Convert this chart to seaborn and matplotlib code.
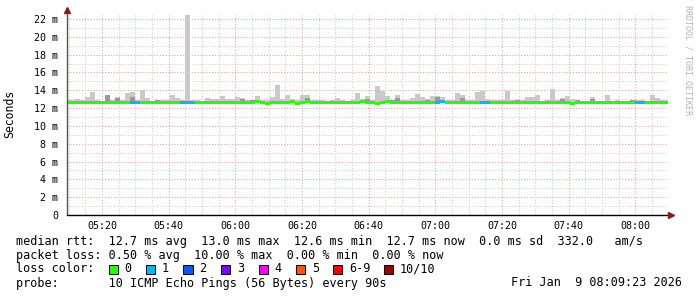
import numpy as np
import matplotlib
matplotlib.use("Agg")
import matplotlib.pyplot as plt
import seaborn as sns
from matplotlib.patches import Rectangle
from matplotlib.lines import Line2D

# ---------------- data (ms), one slot per 90 s probe ----------------
smoke_max = [12.9, 12.9, 13.0, 12.9, 13.2, 13.8, 12.9, 12.8, 13.5, 12.9,
             13.2, 12.9, 13.7, 13.8, 12.9, 14.0, 13.1, 12.8, 12.9, 12.9,
             12.9, 13.5, 13.1, 12.9, 22.45, 12.9, 12.9, 12.8, 13.1, 13.0,
             13.0, 13.4, 13.0, 13.0, 13.2, 13.1, 12.9, 12.9, 13.4, 12.9,
             12.9, 13.2, 14.6, 13.0, 13.5, 13.0, 12.9, 13.5, 13.5, 12.9,
             12.9, 12.9, 12.8, 12.9, 13.1, 12.9, 12.8, 12.9, 13.7, 13.0,
             13.4, 12.9, 14.5, 13.9, 13.4, 12.9, 13.5, 12.9, 12.9, 13.1,
             13.6, 13.2, 13.0, 13.4, 13.4, 13.2, 12.9, 12.9, 13.7, 13.5,
             12.9, 12.9, 13.8, 13.9, 13.0, 12.9, 12.9, 12.9, 13.9, 12.9,
             12.9, 12.9, 13.2, 13.2, 13.5, 12.8, 12.9, 14.1, 12.9, 13.1,
             13.4, 13.0, 12.9, 12.8, 12.8, 13.2, 12.8, 12.8, 13.5, 12.8,
             12.9, 12.8, 12.8, 12.9, 12.9, 12.9, 12.8, 13.5, 13.1, 12.9,
             12.9]
smoke_min = 12.55
dark_top = [0, 0, 0, 0, 0, 0, 0, 0, 13.45, 0,
            13.15, 0, 0, 13.3, 0, 0, 0, 0, 12.9, 0,
            0, 0, 0, 0, 0, 0, 0, 0, 0, 0,
            0, 0, 0, 0, 0, 13.0, 0, 12.9, 12.9, 0,
            0, 0, 0, 0, 0, 0, 0, 0, 13.1, 0,
            0, 0, 0, 0, 0, 0, 0, 0, 0, 0,
            13.0, 0, 0, 0, 0, 12.9, 13.1, 0, 0, 0,
            0, 0, 12.95, 0, 13.3, 0, 0, 0, 0, 13.1,
            0, 0, 0, 0, 0, 0, 0, 0, 0, 0,
            12.9, 0, 0, 0, 0, 0, 0, 0, 0, 13.0,
            0, 0, 12.9, 0, 0, 13.0, 0, 0, 0, 0,
            0, 0, 0, 12.9, 0, 0, 0, 0, 0, 0,
            0]
median = [12.7] * 38 + [12.8, 12.7, 12.6, 12.7, 12.7, 12.7, 12.7, 12.8, 12.6, 12.7,
                        12.8, 12.7, 12.7, 12.7, 12.7, 12.7, 12.7, 12.7, 12.7, 12.7,
                        12.7, 12.8, 12.7, 12.7, 12.6, 12.7, 12.8, 12.7, 12.7, 12.7,
                        12.7, 12.7, 12.7, 12.7, 12.7, 12.7, 12.7, 12.8, 12.7, 12.7] + [12.7] * 43
median[101] = 12.6
loss = [0] * 121
for k in [13, 14, 23, 24, 25, 74, 75, 83, 84, 114, 115]:
    loss[k] = 1

loss_labels = ["0", "1", "2", "3", "4", "5", "6-9", "10/10"]
loss_colors = ["#26ff00", "#00b8ff", "#0059ff", "#7e00ff", "#ff00ff", "#ff5500", "#ff0000", "#a10000"]

x_ticks = [20, 40, 60, 80, 100, 120, 140, 160, 180]          # minutes after 05:00
x_ticklabels = ["05:20", "05:40", "06:00", "06:20", "06:40", "07:00", "07:20", "07:40", "08:00"]
y_ticks = list(range(0, 23, 2))
y_ticklabels = ["0"] + [f"{v} m" for v in range(2, 23, 2)]

first_slot_min = 8.9   # start (minutes after 05:00) of first 90 s slot
step_min = 1.5
x_left = np.array([first_slot_min + step_min * k for k in range(len(smoke_max))])

# ---------------- style ----------------
sns.set_theme(style="white")
plt.rcParams["font.family"] = ["DejaVu Sans Mono"]

W, H = 697, 297
fig = plt.figure(figsize=(W / 100, H / 100), dpi=100)
fig.patch.set_facecolor("white")
ax = fig.add_axes([67 / W, 1 - 215 / H, 601 / W, 200 / H])
ax.set_facecolor("white")
ax.set_xlim(9.5, 9.5 + 601 * 0.3)
ax.set_ylim(0, 22.45)

# grid
major_c = "#e8a4a4"
minor_c = "#cfcfcf"
for v in range(1, 23):
    ax.axhline(v, color=major_c if v % 2 == 0 else minor_c, lw=0.8,
               ls=(0, (1, 1.6)), zorder=0)
for m in range(10, 190, 5):
    ax.axvline(m, color=major_c if m % 20 == 0 else minor_c, lw=0.8,
               ls=(0, (1, 1.6)), zorder=0)

# smoke
smax = np.array(smoke_max)
ax.bar(x_left, smax - smoke_min, bottom=smoke_min, width=step_min, align="edge",
       color="#c9c9c9", linewidth=0, zorder=2)
dt = np.array(dark_top)
mask = dt > 0
ax.bar(x_left[mask], dt[mask] - smoke_min, bottom=smoke_min, width=step_min, align="edge",
       color="#9a9a9a", linewidth=0, zorder=3)
# median coloured by loss
med = np.array(median)
ax.bar(x_left, 0.34, bottom=med - 0.24, width=step_min, align="edge",
       color=[loss_colors[l] for l in loss], linewidth=0, zorder=4)

# axes / ticks
for s in ax.spines.values():
    s.set_visible(False)
ax.set_xticks(x_ticks)
ax.set_xticklabels(x_ticklabels)
ax.set_xticks(list(range(10, 190, 5)), minor=True)
ax.set_yticks(y_ticks)
ax.set_yticklabels(y_ticklabels)
ax.set_yticks(list(range(0, 23)), minor=True)
ax.tick_params(axis="both", which="major", length=3, width=0.8, color="#555555",
               direction="inout", labelsize=7.2, labelcolor="black")
ax.tick_params(axis="both", which="minor", length=2, width=0.8, color="#888888",
               direction="inout")
ax.tick_params(axis="y", pad=5)
ax.tick_params(axis="x", pad=3)

# axis lines with arrows
x0, yb = 67 / W, 1 - 215 / H
fig.add_artist(Line2D([x0, x0], [yb, 1 - 12 / H], color="#555555", lw=1.0, transform=fig.transFigure))
fig.add_artist(Line2D([x0, 670 / W], [yb, yb], color="black", lw=1.0, transform=fig.transFigure))
fig.add_artist(Line2D([x0], [1 - 10 / H], marker="^", markersize=4.5, color="#8b1a1a",
                      transform=fig.transFigure, lw=0))
fig.add_artist(Line2D([671 / W], [yb], marker=">", markersize=4.5, color="#8b1a1a",
                      transform=fig.transFigure, lw=0))

# labels
fig.text(10 / W, 1 - 114 / H, "Seconds", rotation=90, ha="center", va="center",
         fontsize=8.3, color="black")
fig.text(688 / W, 1 - 5 / H, "RRDTOOL / TOBI OETIKER", rotation=-90, ha="center", va="top",
         fontsize=6.0, color="#b4b4b4")

fs = 8.5
def row(y, s, x=16, ha="left"):
    fig.text(x / W, 1 - y / H, s, ha=ha, va="center", fontsize=fs, color="black")

row(241, "median rtt:  12.7 ms avg  13.0 ms max  12.6 ms min  12.7 ms now  0.0 ms sd  332.0   am/s")
row(255, "packet loss: 0.50 % avg  10.00 % max  0.00 % min  0.00 % now")
row(269, "loss color:")
box_x = [108.5, 146, 183.5, 221, 258.5, 296, 333, 384]
for bx, lab, c in zip(box_x, loss_labels, loss_colors):
    fig.add_artist(Rectangle((bx / W, 1 - 274 / H), 9 / W, 9 / H, transform=fig.transFigure,
                             facecolor=c, edgecolor="black", lw=0.7))
    row(269, lab, x=bx + 16)
row(283, "probe:       10 ICMP Echo Pings (56 Bytes) every 90s")
row(283, "Fri Jan  9 08:09:23 2026", x=682, ha="right")

fig.savefig("out.png", dpi=100, facecolor="white")
